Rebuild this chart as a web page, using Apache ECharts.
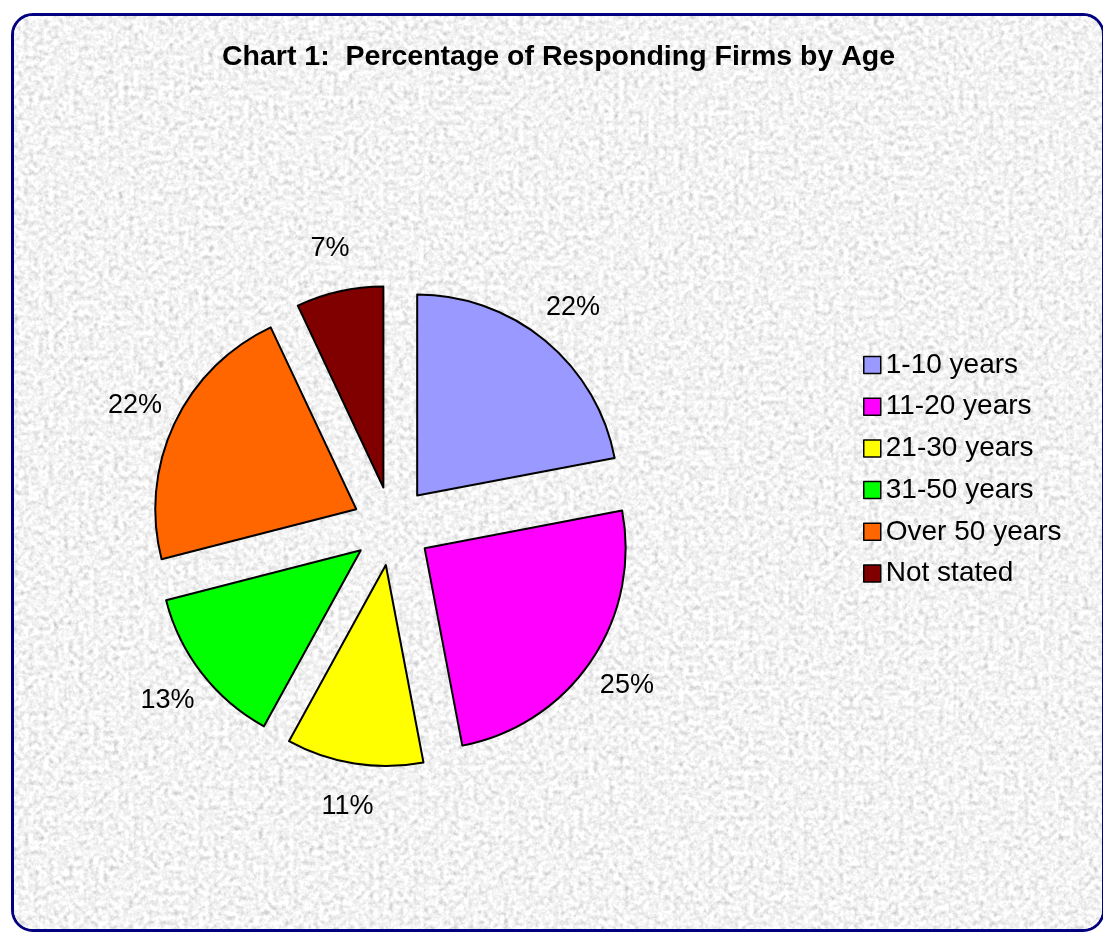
<!DOCTYPE html>
<html>
<head>
<meta charset="utf-8">
<script src="https://cdn.jsdelivr.net/npm/echarts@6/dist/echarts.min.js"></script>
<style>
  html, body { margin: 0; padding: 0; background: #ffffff; }
  #wrap { position: relative; width: 1103px; height: 932px; overflow: hidden; }
  #box { position: absolute; left: 11px; top: 13px; width: 1094px; height: 919px;
         box-sizing: border-box; border: 3px solid #000080; border-radius: 22px; overflow: hidden;
         background: #e4e4e4; }
  #box svg { position: absolute; left: 0; top: 0; }
  #chart { position: absolute; left: 0; top: 0; width: 1103px; height: 932px; }
</style>
</head>
<body>
<div id="wrap">
  <div id="box">
    <svg width="1100" height="930" xmlns="http://www.w3.org/2000/svg">
      <filter id="granite" x="0" y="0" width="100%" height="100%">
        <feTurbulence type="fractalNoise" baseFrequency="0.2" numOctaves="4" seed="11"/>
        <feColorMatrix type="matrix" values="0.33 0.33 0.33 0 0  0.33 0.33 0.33 0 0  0.33 0.33 0.33 0 0  0 0 0 0 1"/>
        <feComponentTransfer>
          <feFuncR type="linear" slope="1.25" intercept="0.28"/>
          <feFuncG type="linear" slope="1.25" intercept="0.28"/>
          <feFuncB type="linear" slope="1.25" intercept="0.28"/>
          <feFuncA type="linear" slope="0" intercept="1"/>
        </feComponentTransfer>
      </filter>
      <rect width="1100" height="930" filter="url(#granite)"/>
    </svg>
  </div>
  <div id="chart"></div>
</div>
<script>
const titleText = 'Chart 1:  Percentage of Responding Firms by Age';
const categories = ['1-10 years', '11-20 years', '21-30 years', '31-50 years', 'Over 50 years', 'Not stated'];
const values = [22, 25, 11, 13, 22, 7];
const colors = ['#9999FF', '#FF00FF', '#FFFF00', '#00FF00', '#FF6600', '#800000'];

const FONT = "'Liberation Sans', Arial, sans-serif";
const CENTER = [392, 526];

const pieData = categories.map((name, i) => ({
  name: name,
  value: values[i],
  selected: true,
  itemStyle: { color: colors[i] }
}));
const labelData = categories.map((name, i) => ({ name: name, value: values[i] }));

const chart = echarts.init(document.getElementById('chart'), null, { renderer: 'canvas' });
chart.setOption({
  animation: false,
  backgroundColor: 'transparent',
  title: {
    text: titleText,
    left: 217,
    top: 38,
    textStyle: { fontFamily: FONT, fontWeight: 'bold', fontSize: 28.5, color: '#000' }
  },
  legend: {
    orient: 'vertical',
    left: 858,
    top: 346,
    itemWidth: 17,
    itemHeight: 17,
    itemGap: 13.7,
    icon: 'rect',
    data: categories,
    itemStyle: { borderColor: '#000', borderWidth: 1.5 },
    textStyle: { fontFamily: FONT, fontSize: 28, color: '#000', lineHeight: 28 }
  },
  series: [
    {
      type: 'pie',
      center: CENTER,
      radius: 201,
      startAngle: 90,
      clockwise: true,
      selectedMode: 'multiple',
      selectedOffset: 39.5,
      silent: true,
      emphasis: { disabled: true },
      itemStyle: { borderColor: '#000', borderWidth: 2 },
      select: { itemStyle: { borderColor: '#000', borderWidth: 2 } },
      label: { show: false },
      labelLine: { show: false },
      data: pieData
    },
    {
      type: 'pie',
      center: CENTER,
      radius: [272, 290],
      startAngle: 90,
      clockwise: true,
      silent: true,
      selectedMode: false,
      emphasis: { disabled: true },
      itemStyle: { color: 'rgba(0,0,0,0)', borderWidth: 0 },
      label: {
        show: true,
        position: 'inside',
        formatter: '{c}%',
        fontFamily: FONT,
        fontSize: 27,
        color: '#000'
      },
      labelLine: { show: false },
      data: labelData
    }
  ]
});
</script>
</body>
</html>
